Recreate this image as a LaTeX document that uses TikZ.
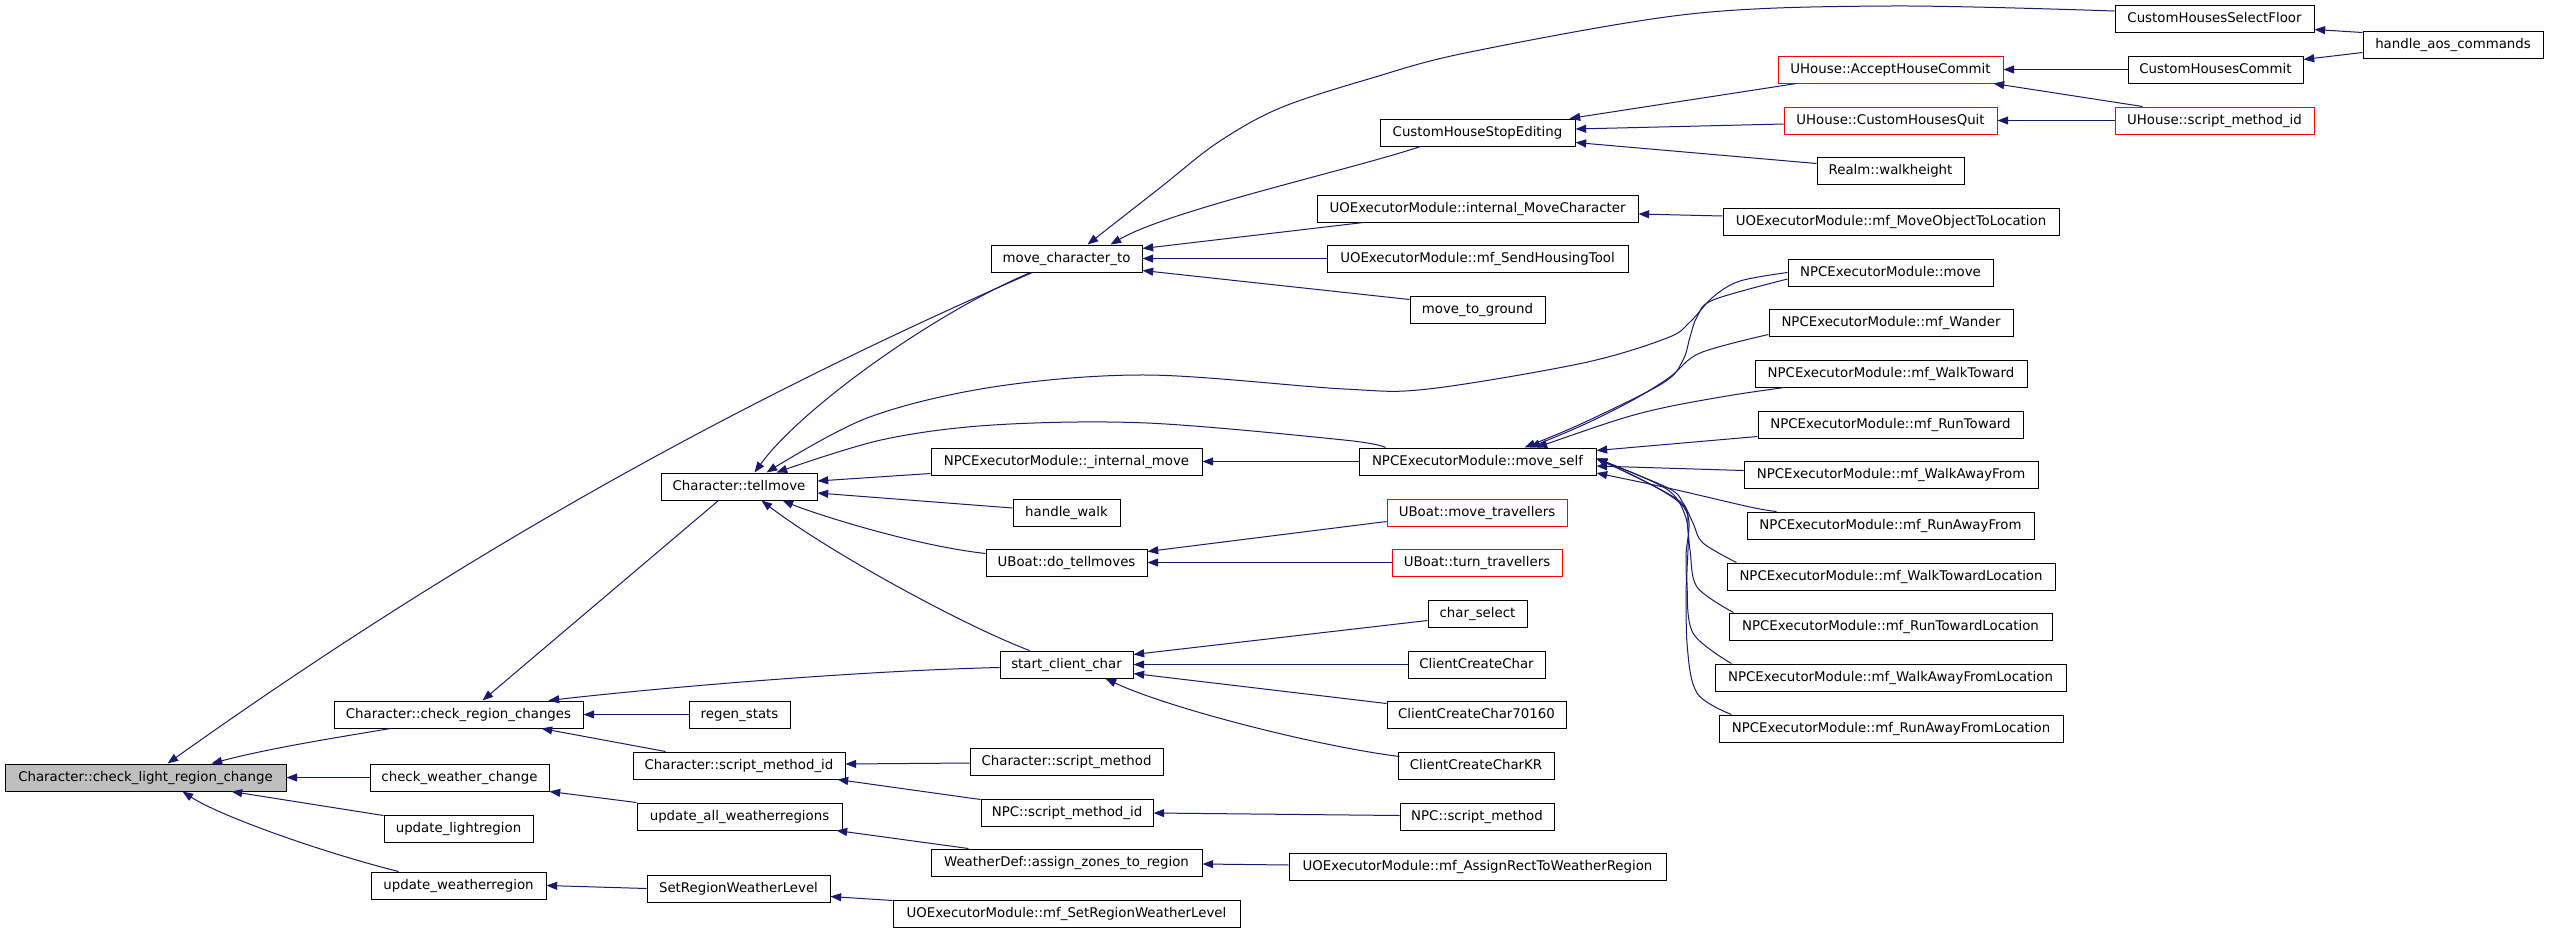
\documentclass[tikz,border=0pt]{standalone}
\usepackage{fontspec}
\setmainfont{DejaVu Sans}
\usetikzlibrary{arrows.meta,calc}
\definecolor{navyc}{HTML}{191970}
\definecolor{hlgray}{HTML}{BFBFBF}
\tikzset{
  box/.style={draw=black, line width=0.75pt, fill=white, minimum width=#1*0.75pt,
    minimum height=20.25pt, inner sep=0pt, text height=7.4pt, text depth=2pt,
    font=\fontsize{10}{12}\selectfont},
  redbox/.style={box=#1, draw=red},
  edge/.style={draw=navyc, line width=0.75pt, -{Triangle[length=8pt,width=6pt]}},
  sm/.style={smooth, tension=0.55}
}
\begin{document}
\begin{tikzpicture}[x=0.75pt,y=-0.75pt]
\fill[white] (0,0) rectangle (2549,932);
\path[use as bounding box] (0,0) rectangle (2549,932);
% nodes
\node[box=281, fill=hlgray] (A) at (145.5,777.5) {Character::check\_light\_region\_change};
\node[box=249] (B) at (458.5,714.5) {Character::check\_region\_changes};
\node[box=179] (C) at (459.5,777.5) {check\_weather\_change};
\node[box=149] (D) at (458.5,828.5) {update\_lightregion};
\node[box=175] (E) at (458.5,885.5) {update\_weatherregion};
\node[box=156] (G) at (739,486.5) {Character::tellmove};
\node[box=101] (H) at (739.5,714.5) {regen\_stats};
\node[box=212] (I) at (739,765.5) {Character::script\_method\_id};
\node[box=205] (J) at (739.5,816.5) {update\_all\_weatherregions};
\node[box=183] (K) at (738.5,888.5) {SetRegionWeatherLevel};
\node[box=151] (F) at (1066.5,258.5) {move\_character\_to};
\node[box=271] (P) at (1066.5,461.5) {NPCExecutorModule::\_internal\_move};
\node[box=107] (Q) at (1066.5,512.5) {handle\_walk};
\node[box=161] (R) at (1066.5,562.5) {UBoat::do\_tellmoves};
\node[box=133] (S) at (1066.5,664.5) {start\_client\_char};
\node[box=193] (T) at (1066.5,761.5) {Character::script\_method};
\node[box=172] (U) at (1067,812.5) {NPC::script\_method\_id};
\node[box=271] (V) at (1066.5,862.5) {WeatherDef::assign\_zones\_to\_region};
\node[box=347] (W) at (1066.5,913.5) {UOExecutorModule::mf\_SetRegionWeatherLevel};
\node[box=195] (L) at (1477.5,132.5) {CustomHouseStopEditing};
\node[box=321] (M) at (1477.5,208.5) {UOExecutorModule::internal\_MoveCharacter};
\node[box=301] (N) at (1477.5,258.5) {UOExecutorModule::mf\_SendHousingTool};
\node[box=135] (O) at (1477.5,309.5) {move\_to\_ground};
\node[box=237] (MS) at (1477.5,461.5) {NPCExecutorModule::move\_self};
\node[redbox=180] (MT) at (1477,512.5) {UBoat::move\_travellers};
\node[redbox=170] (TT) at (1477,562.5) {UBoat::turn\_travellers};
\node[box=99] (CS) at (1477.5,613.5) {char\_select};
\node[box=137] (CCC) at (1476.5,664.5) {ClientCreateChar};
\node[box=179] (C70) at (1476.5,714.5) {ClientCreateChar70160};
\node[box=156] (CKR) at (1476,765.5) {ClientCreateCharKR};
\node[box=154] (NSM) at (1477,816.5) {NPC::script\_method};
\node[box=377] (AR) at (1477.5,866.5) {UOExecutorModule::mf\_AssignRectToWeatherRegion};
\node[redbox=225] (X) at (1890.5,69.5) {UHouse::AcceptHouseCommit};
\node[redbox=213] (Y) at (1890.5,120.5) {UHouse::CustomHousesQuit};
\node[box=147] (Z) at (1890.5,170.5) {Realm::walkheight};
\node[box=336] (MO) at (1891,221.5) {UOExecutorModule::mf\_MoveObjectToLocation};
\node[box=205] (NM) at (1890.5,272.5) {NPCExecutorModule::move};
\node[box=244] (NW) at (1891,322.5) {NPCExecutorModule::mf\_Wander};
\node[box=272] (NWT) at (1891,373.5) {NPCExecutorModule::mf\_WalkToward};
\node[box=265] (NRT) at (1890.5,424.5) {NPCExecutorModule::mf\_RunToward};
\node[box=294] (NWA) at (1891,474.5) {NPCExecutorModule::mf\_WalkAwayFrom};
\node[box=287] (NRA) at (1890.5,525.5) {NPCExecutorModule::mf\_RunAwayFrom};
\node[box=328] (NWTL) at (1891,576.5) {NPCExecutorModule::mf\_WalkTowardLocation};
\node[box=323] (NRTL) at (1890.5,626.5) {NPCExecutorModule::mf\_RunTowardLocation};
\node[box=351] (NWAL) at (1890.5,677.5) {NPCExecutorModule::mf\_WalkAwayFromLocation};
\node[box=344] (NRAL) at (1891,728.5) {NPCExecutorModule::mf\_RunAwayFromLocation};
\node[box=199] (SF) at (2214.5,18.5) {CustomHousesSelectFloor};
\node[box=175] (CC) at (2215.5,69.5) {CustomHousesCommit};
\node[redbox=199] (US) at (2214.5,120.5) {UHouse::script\_method\_id};
\node[box=180] (HA) at (2453,44.5) {handle\_aos\_commands};
% edges into A
\draw[edge] ($(B.south west)+(57,0)$) .. controls (340,737) and (270,748) .. ($(A.north west)+(207,0)$);
\draw[edge] (C.west) -- (A.east);
\draw[edge] ($(D.north west)+(0,1)$) -- ($(A.south west)+(227,0)$);
\draw[edge] ($(E.north west)+(28,0)$) .. controls (321,852) and (220,816) .. ($(A.south west)+(178,0)$);
\draw[edge] ($(F.south west)+(42,0)$) .. controls (689,422) and (420,584) .. ($(A.north west)+(163,0)$);
% edges into B, C, E
\draw[edge] ($(G.south west)+(58,0)$) -- ($(B.north west)+(149,0)$);
\draw[edge] ($(S.west)+(0,3)$) .. controls (850,671) and (648,689) .. ($(B.north east)+(-35,0)$);
\draw[edge] (H.west) -- (B.east);
\draw[edge] ($(I.north west)+(33,0)$) -- ($(B.south east)+(-42,0)$);
\draw[edge] (J.north west) -- (C.south east);
\draw[edge] (K.west) -- (E.east);
% edges into G
\draw[edge] ($(F.south west)+(40,0)$) .. controls (930,315) and (800,410) .. ($(G.north west)+(94,0)$);
\draw[edge] plot[sm] coordinates {(NM.west) (1740,281) (1713,297) (1690,322) (1667,338) (1583,363) (1428,389) (1344,389) (1147,375) (993,387) (867,418) ($(G.north west)+(106,0)$)};
\draw[edge] plot[sm] coordinates {($(MS.north west)+(27,0)$) (1344,440) (1147,423) (993,425) (881,440) ($(G.north west)+(116,0)$)};
\draw[edge] ($(P.south west)+(0,-2)$) -- ($(G.east)+(0,-5.5)$);
\draw[edge] ($(Q.west)+(0,-4.5)$) -- ($(G.east)+(0,6.5)$);
\draw[edge] ($(R.north west)+(0,5)$) .. controls (910,545) and (810,512) .. ($(G.south east)+(-35,0)$);
\draw[edge] ($(S.north west)+(30,0)$) .. controls (960,624) and (826,550) .. ($(G.south west)+(101,0)$);
% edges into F
\draw[edge] ($(L.south west)+(41,0)$) .. controls (1350,170) and (1170,210) .. ($(F.north east)+(-32,0)$);
\draw[edge] plot[sm] coordinates {($(SF.west)+(0,-7.5)$) (1891,6) (1690,14) (1470,52) (1372,78) (1280,108) (1217,143) (1161,187) ($(F.north west)+(97,0)$)};
\draw[edge] ($(M.south west)+(47,0)$) -- ($(F.east)+(0,-10)$);
\draw[edge] (N.west) -- (F.east);
\draw[edge] ($(O.north west)+(0,4)$) -- ($(F.south east)+(0,-2)$);
% edges into L, M, X, Y, SF, CC
\draw[edge] ($(X.south west)+(19,0)$) -- ($(L.north east)+(-6,0)$);
\draw[edge] ($(Y.west)+(0,3.5)$) -- ($(L.east)+(0,-3.5)$);
\draw[edge] ($(Z.north west)+(0,7)$) -- ($(L.south east)+(0,-4)$);
\draw[edge] ($(MO.west)+(0,-5.5)$) -- ($(M.east)+(0,5.5)$);
\draw[edge] (CC.west) -- (X.east);
\draw[edge] ($(US.north west)+(28,0)$) -- ($(X.south east)+(-10,0)$);
\draw[edge] (US.west) -- (Y.east);
\draw[edge] ($(HA.north west)+(0,2)$) -- ($(SF.south east)+(0,-3)$);
\draw[edge] ($(HA.west)+(0,8)$) -- ($(CC.east)+(0,-10)$);
% edges into P, R
\draw[edge] (MS.west) -- (P.east);
\draw[edge] ($(MT.west)+(0,9)$) -- ($(R.north east)+(0,3)$);
\draw[edge] (TT.west) -- (R.east);
% edges into MS
\draw[edge] plot[sm] coordinates {($(NM.west)+(0,6.5)$) (1713,300) (1697,317) (1690,337) (1683,360) (1663,383) (1583,423) ($(MS.north west)+(166,0)$)};
\draw[edge] plot[sm] coordinates {($(NW.south west)+(0,-2)$) (1700,353) (1670,377) (1633,400) (1583,425) ($(MS.north west)+(171,0)$)};
\draw[edge] plot[sm] coordinates {($(NWT.south west)+(30,0)$) (1733,395) (1667,407) (1617,420) ($(MS.north west)+(178,0)$)};
\draw[edge] ($(NRT.west)+(0,12)$) -- ($(MS.east)+(0,-11)$);
\draw[edge] ($(NWA.west)+(0,-4)$) -- ($(MS.east)+(0,4.5)$);
\draw[edge] plot[sm] coordinates {($(NRA.north west)+(30,0)$) (1750,507) (1668,488) ($(MS.east)+(0,11.5)$)};
\draw[edge] plot[sm] coordinates {($(NWTL.north west)+(10,0)$) (1703,543) (1693,523) (1683,503) (1668,488) ($(MS.east)+(0,-3)$)};
\draw[edge] plot[sm] coordinates {($(NRTL.north west)+(5,0)$) (1697,587) (1690,550) (1685,515) (1665,488) ($(MS.east)+(0,-3)$)};
\draw[edge] plot[sm] coordinates {($(NWAL.north west)+(17,0)$) (1693,633) (1687,583) (1688,530) (1678,500) ($(MS.east)+(0,-3)$)};
\draw[edge] plot[sm] coordinates {($(NRAL.north west)+(13,0)$) (1697,693) (1687,643) (1686,560) (1682,505) ($(MS.east)+(0,-3)$)};
% edges into S
\draw[edge] ($(CS.west)+(0,7)$) -- ($(S.north east)+(0,4)$);
\draw[edge] (CCC.west) -- (S.east);
\draw[edge] ($(C70.north west)+(0,3)$) -- ($(S.east)+(0,9)$);
\draw[edge] ($(CKR.north west)+(2,5)$) .. controls (1316,746) and (1168,708) .. ($(S.south east)+(-28,0)$);
% edges into I, U, J, V, K
\draw[edge] ($(T.west)+(0,1.5)$) -- ($(I.east)+(0,-1.5)$);
\draw[edge] ($(U.north west)+(0,1)$) -- ($(I.south east)+(-8,0)$);
\draw[edge] ($(NSM.west)+(0,-1)$) -- ($(U.east)+(0,0.5)$);
\draw[edge] ($(V.north west)+(38,0)$) -- ($(J.south east)+(-6,0)$);
\draw[edge] ($(AR.west)+(0,-1.5)$) -- ($(V.east)+(0,1.5)$);
\draw[edge] ($(W.north west)+(0,1)$) -- ($(K.south east)+(0,-6)$);
\end{tikzpicture}
\end{document}
